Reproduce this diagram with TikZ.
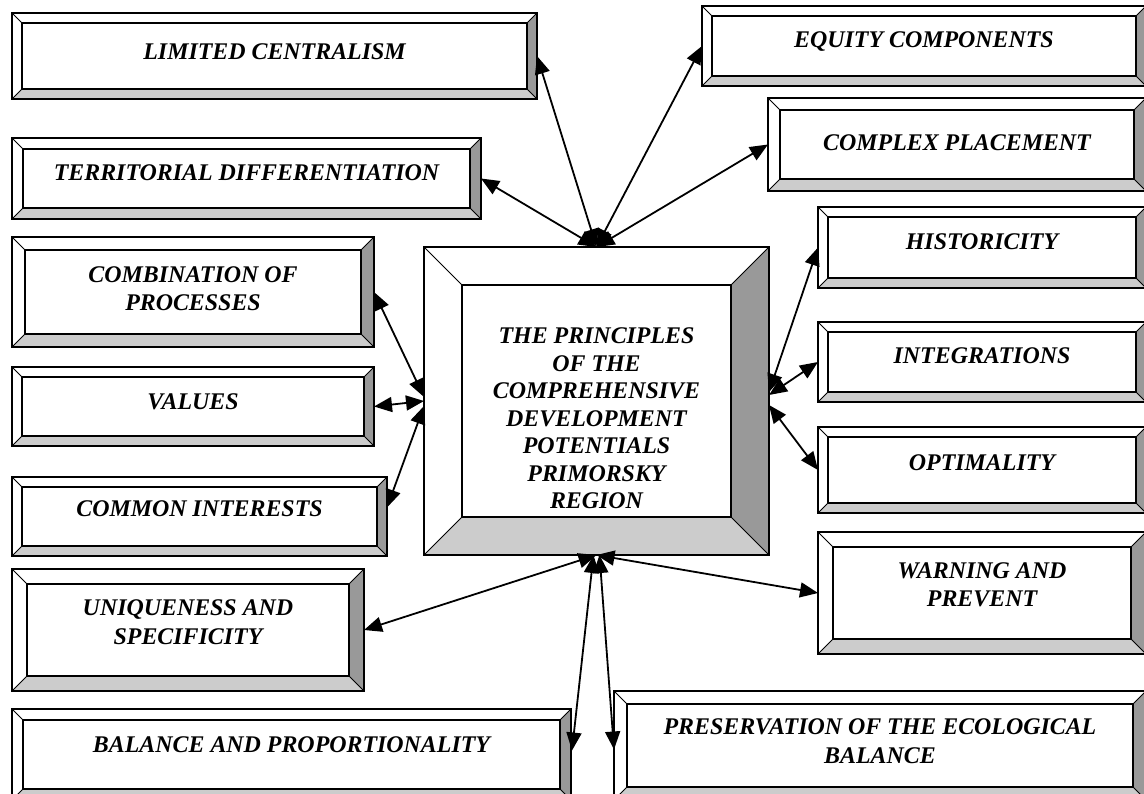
\documentclass[tikz,border=0pt]{standalone}
\usepackage{fontspec}
\setmainfont{Liberation Serif}
\usetikzlibrary{arrows.meta,calc}
\definecolor{bevdark}{HTML}{999999}
\definecolor{bevlight}{HTML}{CCCCCC}
\tikzset{
  boxnode/.style={draw=black, line width=2pt, inner sep=0pt, outer sep=0pt, rectangle},
  lbl/.style={align=center, inner sep=0pt, font=\fontsize{23.9}{28.5}\selectfont\bfseries\itshape},
  clbl/.style={align=center, inner sep=0pt, font=\fontsize{23.9}{27.5}\selectfont\bfseries\itshape},
  conn/.style={line width=1.8pt, {Triangle[length=18pt,width=15pt]}-{Triangle[length=18pt,width=15pt]}}
}
% #1 name, #2 x1, #3 y1, #4 x2, #5 y2, #6 bevel, #7 text y, #8 label style, #9 text
\newcommand\bevbox[9]{%
  \fill[white] (#2,#3) rectangle (#4,#5);
  \fill[bevdark] (#4,#3) -- (#4,#5) -- ({#4-#6},{#5-#6}) -- ({#4-#6},{#3+#6}) -- cycle;
  \fill[bevlight] (#2,#5) -- (#4,#5) -- ({#4-#6},{#5-#6}) -- ({#2+#6},{#5-#6}) -- cycle;
  \draw[line width=1.5pt] ({#2+#6},{#3+#6}) rectangle ({#4-#6},{#5-#6});
  \draw[line width=1pt] (#2,#3) -- ({#2+#6},{#3+#6}) (#4,#3) -- ({#4-#6},{#3+#6})
     (#2,#5) -- ({#2+#6},{#5-#6}) (#4,#5) -- ({#4-#6},{#5-#6});
  \node[boxnode, minimum width={(#4-#2)*1pt}, minimum height={(#5-#3)*1pt}] (#1) at ({(#2+#4)/2},{(#3+#5)/2}) {};
  \node[#8] at ({(#2+#4)/2},#7) {#9};
}
\begin{document}
\begin{tikzpicture}[x=1pt,y=-1pt]
\useasboundingbox (0,0) rectangle (1144,794);
\clip (0,0) rectangle (1144,794);
\fill[white] (0,0) rectangle (1144,794);
\bevbox{lc}{12}{13}{537}{99}{10}{52}{lbl}{LIMITED CENTRALISM}
\bevbox{eq}{702}{6}{1146}{86}{10}{42}{lbl}{EQUITY COMPONENTS}
\bevbox{cp}{768}{98}{1146}{191}{12}{143}{lbl}{COMPLEX PLACEMENT}
\bevbox{td}{12}{138}{481}{219}{11}{173}{lbl}{TERRITORIAL DIFFERENTIATION}
\bevbox{cb}{12}{237}{374}{347}{13}{288.5}{lbl}{COMBINATION OF\\PROCESSES}
\bevbox{va}{12}{367}{374}{446}{10}{402}{lbl}{VALUES}
\bevbox{ci}{12}{477}{387}{556}{10}{509}{lbl}{COMMON INTERESTS}
\bevbox{us}{12}{569}{364}{691}{15}{622}{lbl}{UNIQUENESS AND\\SPECIFICITY}
\bevbox{bp}{12}{709}{571}{800}{11}{745}{lbl}{BALANCE AND PROPORTIONALITY}
\bevbox{pr}{614}{691}{1146}{800}{13}{741}{lbl}{PRESERVATION OF THE ECOLOGICAL\\BALANCE}
\bevbox{hi}{818}{207}{1146}{288}{10}{242}{lbl}{HISTORICITY}
\bevbox{ig}{818}{322}{1146}{402}{10}{356}{lbl}{INTEGRATIONS}
\bevbox{op}{818}{427}{1146}{513}{10}{463}{lbl}{OPTIMALITY}
\bevbox{wp}{818}{532}{1146}{654}{15}{585}{lbl}{WARNING AND\\PREVENT}
\bevbox{c}{424}{247}{769}{555}{38}{418.5}{clbl}{THE PRINCIPLES\\OF THE\\COMPREHENSIVE\\DEVELOPMENT\\POTENTIALS\\PRIMORSKY\\REGION}
% top group
\draw[conn] (lc.east) -- (c.north);
\draw[conn] (eq.west) -- (c.north);
\draw[conn] (cp.west) -- (c.north);
\draw[conn] (td.east) -- (c.north);
% left group
\draw[conn] (cb.east) -- ($(c.west)+(0,-4)$);
\draw[conn] (va.east) -- ($(c.west)+(0,0)$);
\draw[conn] ($(ci.east)+(0,-9)$) -- ($(c.west)+(0,5)$);
% right group
\draw[conn] (hi.west) -- ($(c.east)+(0,-9)$);
\draw[conn] (ig.west) -- ($(c.east)+(0,-6)$);
\draw[conn] (op.west) -- ($(c.east)+(0,4)$);
% bottom group
\draw[conn] (us.east) -- (c.south);
\draw[conn] (wp.west) -- (c.south);
\draw[conn] ($(bp.east)+(1,-4)$) -- ($(c.south)+(-3,0)$);
\draw[conn] ($(pr.west)+(0,4)$) -- ($(c.south)+(3,0)$);
\end{tikzpicture}
\end{document}
